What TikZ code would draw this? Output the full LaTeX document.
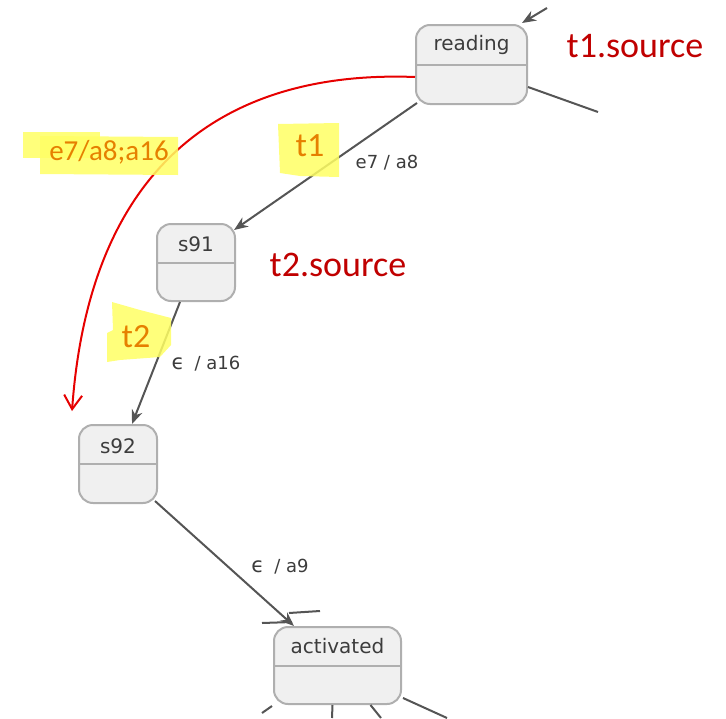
\documentclass[tikz,border=0pt]{standalone}
\usepackage{fontspec}
\setmainfont{DejaVu Sans}
\newfontfamily\calib{Carlito}
\usetikzlibrary{arrows.meta,calc}
\definecolor{boxfill}{RGB}{240,240,240}
\definecolor{boxline}{RGB}{175,175,175}
\definecolor{txtgray}{RGB}{60,60,60}
\definecolor{edgegray}{RGB}{85,85,85}
\definecolor{annored}{RGB}{192,0,0}
\definecolor{annoorange}{RGB}{230,128,0}
\definecolor{arcred}{RGB}{230,0,0}
\definecolor{hiyellow}{RGB}{255,255,100}
\begin{document}
\begin{tikzpicture}[x=1pt,y=-1pt,
 statebox/.style={draw=boxline, fill=boxfill, line width=2pt, rounded corners=14pt, inner sep=0pt},
 divider/.style={draw=boxline, line width=2pt},
 statename/.style={text=txtgray, font=\fontsize{20}{22}\selectfont, inner sep=0pt},
 edge/.style={draw=edgegray, line width=2pt, -{Stealth[length=14pt,width=11pt,inset=4.5pt]}},
 stub/.style={draw=edgegray, line width=2pt},
 elabel/.style={text=txtgray, font=\fontsize{18}{20}\selectfont, inner sep=0pt},
 anno/.style={text=annored, font=\calib\fontsize{36}{40}\selectfont, inner sep=0pt},
 tag/.style={text=annoorange, font=\calib\fontsize{34}{38}\selectfont, inner sep=0pt},
 tagsmall/.style={text=annoorange, font=\calib\fontsize{29}{33}\selectfont, inner sep=0pt},
 hilite/.style={fill=hiyellow, draw=none, opacity=0.85},
]
\useasboundingbox (0,0) rectangle (726,718);

% states
\node[statebox, minimum width=111pt, minimum height=79pt] (reading) at (471.5,64.5) {};
\node[statename] (readingname) at (471.5,45) {reading};
\draw[divider] (reading.west) -- (reading.east);

\node[statebox, minimum width=78pt, minimum height=77pt] (s91) at (196,262.5) {};
\node[statename] (s91name) at (196,244) {s91};
\draw[divider] (s91.west) -- (s91.east);

\node[statebox, minimum width=78pt, minimum height=78pt] (s92) at (118,464) {};
\node[statename] (s92name) at (118,446) {s92};
\draw[divider] (s92.west) -- (s92.east);

\node[statebox, minimum width=127pt, minimum height=77pt] (activated) at (337.5,665.5) {};
\node[statename] (activatedname) at (337.5,646) {activated};
\draw[divider] (activated.west) -- (activated.east);

% free ends
\coordinate (rin) at (547,8);
\coordinate (rout) at (598,112);
\coordinate (ain1) at (262,623);
\coordinate (ain2) at (320,611);
\coordinate (aout1) at (262,713);
\coordinate (aout2) at (332,718);
\coordinate (aout3) at (381,718);
\coordinate (aout4) at (447,718);
\coordinate (arcend) at (72,411);

% connectors
\draw[edge] (rin) -- ($(reading.north east)+(-6,-1)$);
\draw[stub] ($(reading.east)+(0,22.5)$) -- (rout);
\draw[edge] ($(reading.south west)+(2,-2)$) -- ($(s91.north east)+(-2,7)$);
\draw[edge] ($(s91.south)+(-16,0)$) -- ($(s92.north)+(14,0)$);
\draw[edge] ($(s92.south east)+(-3,-3)$) -- ($(activated.north west)+(21,0)$);
\draw[stub] (ain1) -- ($(activated.north west)+(19,-4)$);
\draw[stub] (ain2) -- ($(activated.north west)+(16,-13)$);
\draw[stub] ($(activated.south west)+(-1,1)$) -- (aout1);
\draw[stub] ($(activated.south)+(-5,0)$) -- (aout2);
\draw[stub] ($(activated.south)+(33,0)$) -- (aout3);
\draw[stub] ($(activated.south east)+(1,-7)$) -- (aout4);

% edge labels
\node[elabel] (l1) at (387,163) {e7 / a8};
\node[elabel] (l2) at (206,364) {{\fontsize{21}{21}\selectfont ϵ}\hspace{10pt}/ a16};
\node[elabel] (l3) at (280,567) {{\fontsize{21}{21}\selectfont ϵ}\hspace{10pt}/ a9};

% red arc
\draw[arcred, line width=2pt, -{Straight Barb[length=14pt,width=18pt]}]
  ($(reading.west)+(0,12.5)$) .. controls (230,70) and (90,160) .. (arcend);

% highlights
\fill[hilite] (23,132) rectangle (100,158);
\fill[hilite] (40,136) -- (178,137) -- (178,175) -- (40,174) -- cycle;
\fill[hilite] (278,124) -- (339,123) -- (339,177) -- (300,176) -- (280,173) -- cycle;
\fill[hilite] (112,302) -- (140,310) -- (171,318) -- (171,345) -- (160,357) -- (120,360) -- (107,362) -- (107,333) -- (113,330) -- cycle;

% annotations
\node[anno] (t1src) at (635,46) {t1.source};
\node[anno] (t2src) at (338,265) {t2.source};
\node[tag] (t1tag) at (310,146) {t1};
\node[tag] (t2tag) at (136,337) {t2};
\node[tagsmall] (e7tag) at (109,152) {e7/a8;a16};
\end{tikzpicture}
\end{document}
